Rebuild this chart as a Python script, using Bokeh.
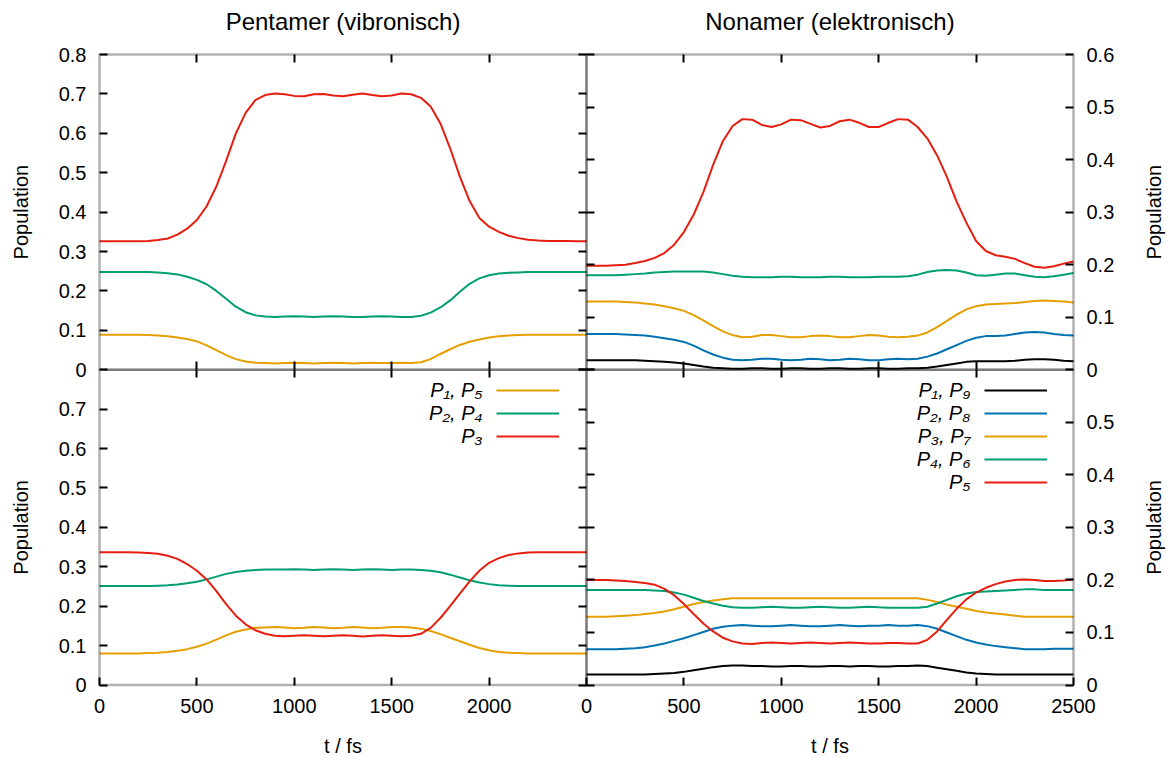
from bokeh.plotting import figure
from bokeh.models import Range1d, LinearAxis, FixedTicker, Label, Legend, LegendItem, BoxAnnotation
from bokeh.embed import file_html
from bokeh.resources import INLINE
import math

FONT = "Liberation Sans"

# ---------------- data ----------------
t_fs = [0, 50, 100, 150, 200, 250, 300, 350, 400, 450,
        500, 550, 600, 650, 700, 750, 800, 850, 900, 950,
        1000, 1050, 1100, 1150, 1200, 1250, 1300, 1350, 1400, 1450,
        1500, 1550, 1600, 1650, 1700, 1750, 1800, 1850, 1900, 1950,
        2000, 2050, 2100, 2150, 2200, 2250, 2300, 2350, 2400, 2450, 2500]

# Pentamer (vibronisch), top panel
tl_p15 = [.089, .089, .089, .089, .089, .088, .087, .085, .082, .078,
          .072, .062, .050, .037, .027, .021, .018, .017, .016, .017,
          .018, .017, .016, .017, .018, .017, .016, .017, .018, .017,
          .017, .018, .017, .019, .027, .040, .052, .063, .071, .077,
          .082, .085, .087, .088, .089, .089, .089, .089, .089, .089, .089]
tl_p24 = [.248, .248, .248, .248, .248, .248, .247, .245, .242, .236,
          .228, .217, .200, .180, .160, .146, .138, .135, .134, .135,
          .136, .135, .134, .135, .136, .135, .134, .134, .135, .136,
          .135, .134, .134, .137, .145, .158, .176, .198, .218, .232,
          .240, .244, .246, .247, .248, .248, .248, .248, .248, .248, .248]
tl_p3 = [.326, .326, .326, .326, .326, .327, .329, .333, .343, .358,
         .380, .415, .465, .530, .600, .652, .684, .697, .701, .699,
         .695, .694, .699, .700, .696, .694, .698, .701, .697, .694,
         .696, .701, .699, .690, .668, .625, .562, .490, .428, .385,
         .363, .350, .340, .334, .330, .328, .327, .327, .327, .326, .326]

# Pentamer, bottom panel
bl_p15 = [.080, .080, .080, .080, .080, .081, .082, .084, .087, .091,
          .097, .105, .115, .126, .135, .141, .145, .146, .147, .146,
          .144, .145, .147, .146, .144, .145, .147, .146, .144, .145,
          .147, .147, .146, .143, .137, .129, .120, .111, .102, .094,
          .088, .084, .082, .081, .080, .080, .080, .080, .080, .080, .080]
bl_p24 = [.251, .251, .251, .251, .251, .251, .252, .253, .255, .258,
          .262, .268, .275, .282, .287, .290, .292, .293, .293, .293,
          .294, .293, .292, .293, .294, .293, .292, .293, .294, .293,
          .292, .293, .293, .292, .290, .286, .280, .273, .266, .260,
          .256, .253, .252, .251, .251, .251, .251, .251, .251, .251, .251]
bl_p3 = [.337, .337, .337, .337, .336, .335, .333, .328, .320, .307,
         .290, .268, .238, .205, .176, .154, .139, .130, .125, .124,
         .125, .126, .125, .124, .125, .126, .125, .123, .125, .126,
         .125, .124, .125, .130, .145, .170, .200, .232, .263, .290,
         .310, .322, .330, .334, .336, .337, .337, .337, .337, .337, .337]

# Nonamer (elektronisch), top panel
tr_p19 = [.018, .018, .018, .018, .018, .018, .017, .016, .015, .014,
          .012, .009, .006, .004, .003, .002, .002, .003, .003, .002,
          .002, .003, .003, .002, .002, .003, .003, .002, .002, .003,
          .003, .002, .002, .003, .003, .004, .006, .009, .012, .015,
          .016, .016, .016, .016, .017, .019, .020, .020, .019, .017, .016]
tr_p28 = [.068, .068, .068, .068, .067, .066, .065, .063, .060, .057,
          .053, .046, .037, .029, .023, .019, .018, .019, .021, .021,
          .019, .018, .019, .021, .020, .018, .019, .021, .020, .018,
          .018, .020, .021, .020, .021, .025, .031, .039, .047, .055,
          .061, .064, .064, .065, .068, .071, .072, .071, .068, .066, .065]
tr_p37 = [.130, .130, .130, .130, .129, .128, .126, .124, .121, .117,
          .112, .104, .094, .083, .073, .066, .062, .063, .066, .066,
          .064, .062, .062, .064, .065, .064, .062, .062, .064, .066,
          .065, .063, .062, .063, .065, .071, .081, .093, .105, .115,
          .121, .124, .125, .126, .127, .129, .131, .132, .131, .130, .128]
tr_p46 = [.180, .180, .180, .180, .181, .182, .183, .185, .186, .187,
          .187, .187, .187, .185, .182, .179, .177, .176, .176, .176,
          .177, .177, .176, .176, .176, .177, .177, .176, .176, .176,
          .177, .177, .177, .178, .181, .186, .189, .190, .189, .185,
          .180, .179, .181, .183, .183, .180, .177, .176, .178, .181, .184]
tr_p5 = [.198, .198, .198, .199, .200, .203, .207, .213, .222, .238,
         .262, .295, .338, .390, .435, .464, .477, .476, .466, .462,
         .467, .476, .475, .468, .461, .464, .473, .476, .470, .462,
         .462, .470, .477, .476, .462, .440, .408, .367, .320, .280,
         .245, .226, .218, .215, .211, .203, .196, .194, .197, .202, .206]

# Nonamer, bottom panel
br_p19 = [.020, .020, .020, .020, .020, .020, .020, .021, .022, .023,
          .025, .028, .031, .034, .036, .037, .037, .036, .036, .035,
          .035, .036, .036, .035, .035, .036, .036, .035, .036, .036,
          .035, .035, .036, .036, .037, .036, .033, .030, .027, .024,
          .022, .021, .020, .020, .020, .020, .020, .020, .020, .020, .020]
br_p28 = [.068, .068, .068, .068, .069, .070, .072, .075, .079, .084,
          .089, .095, .101, .107, .111, .113, .114, .113, .112, .112,
          .113, .114, .113, .112, .112, .113, .114, .113, .112, .113,
          .113, .114, .113, .113, .114, .112, .107, .100, .093, .086,
          .081, .077, .074, .072, .070, .068, .068, .068, .069, .069, .069]
br_p37 = [.130, .130, .130, .131, .132, .133, .135, .137, .140, .144,
          .149, .154, .158, .161, .163, .165, .165, .165, .165, .165,
          .165, .165, .165, .165, .165, .165, .165, .165, .165, .165,
          .165, .165, .165, .165, .165, .162, .158, .153, .149, .145,
          .141, .138, .136, .134, .132, .130, .130, .130, .130, .130, .130]
br_p46 = [.181, .181, .181, .181, .181, .181, .181, .180, .179, .176,
          .172, .166, .160, .155, .151, .148, .147, .147, .148, .149,
          .148, .147, .147, .148, .149, .148, .147, .147, .148, .149,
          .148, .147, .147, .147, .147, .149, .155, .162, .169, .174,
          .177, .178, .179, .180, .181, .182, .182, .181, .181, .181, .181]
br_p5 = [.200, .200, .200, .199, .198, .196, .194, .191, .183, .171,
         .154, .135, .117, .102, .090, .083, .079, .078, .080, .081,
         .080, .079, .080, .081, .080, .079, .080, .081, .080, .079,
         .079, .080, .080, .079, .079, .086, .102, .124, .145, .163,
         .176, .185, .192, .197, .200, .201, .200, .198, .198, .199, .201]

# ticks / labels / texts
x_ticks_left = [0, 500, 1000, 1500, 2000]
x_labels_left = ["0", "500", "1000", "1500", "2000"]
x_ticks_right = [0, 500, 1000, 1500, 2000, 2500]
x_labels_right = ["0", "500", "1000", "1500", "2000", "2500"]
x_ticks_inner = [500, 1000, 1500, 2000]
y_ticks_tl = [0, 0.1, 0.2, 0.3, 0.4, 0.5, 0.6, 0.7, 0.8]
y_labels_tl = ["0", "0.1", "0.2", "0.3", "0.4", "0.5", "0.6", "0.7", "0.8"]
y_ticks_bl = [0, 0.1, 0.2, 0.3, 0.4, 0.5, 0.6, 0.7]
y_labels_bl = ["0", "0.1", "0.2", "0.3", "0.4", "0.5", "0.6", "0.7"]
y_ticks_tr = [0, 0.1, 0.2, 0.3, 0.4, 0.5, 0.6]
y_labels_tr = ["0", "0.1", "0.2", "0.3", "0.4", "0.5", "0.6"]
y_ticks_br = [0, 0.1, 0.2, 0.3, 0.4, 0.5]
y_labels_br = ["0", "0.1", "0.2", "0.3", "0.4", "0.5"]
T_MAX = 2500
Y_MAX_LEFT = 0.8
Y_MAX_RIGHT = 0.6

titles = ["Pentamer (vibronisch)", "Nonamer (elektronisch)"]
y_title = "Population"
x_title = "t / fs"
legend_left = ["P\u2081, P\u2085", "P\u2082, P\u2084", "P\u2083"]
legend_right = ["P\u2081, P\u2089", "P\u2082, P\u2088", "P\u2083, P\u2087", "P\u2084, P\u2086", "P\u2085"]

C_BLACK = "#000000"
C_BLUE = "#0072b2"
C_ORANGE = "#e69f00"
C_GREEN = "#009e73"
C_RED = "#e51e10"

# ---------------- layout (pixels) ----------------
W, H = 1167, 757
XL0, XM, XR1 = 99, 586, 1073          # panel edges, x
YT0, YM, YB1 = 54, 369.25, 684.5      # panel edges, y (from top)
SX = (XM - XL0) / T_MAX               # px per fs
SYL = (YM - YT0) / Y_MAX_LEFT         # px per unit, left panels
SYR = (YM - YT0) / Y_MAX_RIGHT        # px per unit, right panels

p = figure(width=W, height=H, output_backend="svg", toolbar_location=None,
           x_range=Range1d(-XL0 / SX, (W - XL0) / SX),
           y_range=Range1d((YB1 - H) / SYL, YB1 / SYL),
           x_axis_type=None, y_axis_type=None,
           min_border_left=0, min_border_right=0, min_border_top=0, min_border_bottom=0)
p.extra_x_ranges = {"xr": Range1d(-XM / SX, (W - XM) / SX)}
p.extra_y_ranges = {"ytl": Range1d((YM - H) / SYL, YM / SYL),
                    "ytr": Range1d((YM - H) / SYR, YM / SYR),
                    "ybr": Range1d((YB1 - H) / SYR, YB1 / SYR)}
p.background_fill_color = "white"
p.border_fill_color = "white"
p.outline_line_color = None


def add_axis(side, ticks, loc, xr=None, yr=None, labels=None, standoff=13):
    kw = {}
    if xr:
        kw["x_range_name"] = xr
    if yr:
        kw["y_range_name"] = yr
    ax = LinearAxis(ticker=FixedTicker(ticks=ticks, minor_ticks=[]), fixed_location=loc, **kw)
    ax.axis_line_color = None
    ax.major_tick_in = 8
    ax.major_tick_out = 0
    ax.major_tick_line_width = 2
    ax.major_tick_line_color = "black"
    ax.minor_tick_line_color = None
    if labels is None:
        ax.major_label_text_font_size = "0px"
        ax.major_label_text_color = None
        ax.major_label_standoff = 0
    else:
        ax.major_label_overrides = {tk: lb for tk, lb in zip(ticks, labels)}
        ax.major_label_text_font = FONT
        ax.major_label_text_font_size = "20px"
        ax.major_label_text_color = "black"
        ax.major_label_standoff = standoff
    p.add_layout(ax, side)


# y axes, left panels
add_axis("left", y_ticks_tl, 0, yr="ytl", labels=y_labels_tl)
add_axis("left", y_ticks_bl, 0, labels=y_labels_bl)
add_axis("right", y_ticks_tl, T_MAX, yr="ytl")
add_axis("right", y_ticks_tl, T_MAX)
# y axes, right panels
add_axis("left", y_ticks_tr, 0, xr="xr", yr="ytr")
add_axis("left", y_ticks_tr, 0, xr="xr", yr="ybr")
add_axis("right", y_ticks_tr, T_MAX, xr="xr", yr="ytr", labels=y_labels_tr)
add_axis("right", y_ticks_br, T_MAX, xr="xr", yr="ybr", labels=y_labels_br)
# x axes
add_axis("below", x_ticks_left, 0, labels=x_labels_left, standoff=14)
add_axis("below", x_ticks_right, 0, xr="xr", yr="ybr", labels=x_labels_right, standoff=14)
add_axis("above", x_ticks_inner, Y_MAX_LEFT, yr="ytl")
add_axis("above", x_ticks_inner, Y_MAX_RIGHT, xr="xr", yr="ytr")
add_axis("below", x_ticks_inner, 0, yr="ytl")
add_axis("below", x_ticks_inner, 0, xr="xr", yr="ytr")
add_axis("above", x_ticks_inner, Y_MAX_LEFT)
add_axis("above", x_ticks_inner, Y_MAX_RIGHT, xr="xr", yr="ybr")

LW = 2
# top-left
p.line(t_fs, tl_p15, color=C_ORANGE, line_width=LW, y_range_name="ytl")
p.line(t_fs, tl_p24, color=C_GREEN, line_width=LW, y_range_name="ytl")
p.line(t_fs, tl_p3, color=C_RED, line_width=LW, y_range_name="ytl")
# bottom-left
r_bl15 = p.line(t_fs, bl_p15, color=C_ORANGE, line_width=LW)
r_bl24 = p.line(t_fs, bl_p24, color=C_GREEN, line_width=LW)
r_bl3 = p.line(t_fs, bl_p3, color=C_RED, line_width=LW)
# top-right
p.line(t_fs, tr_p19, color=C_BLACK, line_width=LW, x_range_name="xr", y_range_name="ytr")
p.line(t_fs, tr_p28, color=C_BLUE, line_width=LW, x_range_name="xr", y_range_name="ytr")
p.line(t_fs, tr_p37, color=C_ORANGE, line_width=LW, x_range_name="xr", y_range_name="ytr")
p.line(t_fs, tr_p46, color=C_GREEN, line_width=LW, x_range_name="xr", y_range_name="ytr")
p.line(t_fs, tr_p5, color=C_RED, line_width=LW, x_range_name="xr", y_range_name="ytr")
# bottom-right
r_br19 = p.line(t_fs, br_p19, color=C_BLACK, line_width=LW, x_range_name="xr", y_range_name="ybr")
r_br28 = p.line(t_fs, br_p28, color=C_BLUE, line_width=LW, x_range_name="xr", y_range_name="ybr")
r_br37 = p.line(t_fs, br_p37, color=C_ORANGE, line_width=LW, x_range_name="xr", y_range_name="ybr")
r_br46 = p.line(t_fs, br_p46, color=C_GREEN, line_width=LW, x_range_name="xr", y_range_name="ybr")
r_br5 = p.line(t_fs, br_p5, color=C_RED, line_width=LW, x_range_name="xr", y_range_name="ybr")

# panel borders
for xr_name, yr_name, ytop in [("default", "ytl", Y_MAX_LEFT), ("default", "default", Y_MAX_LEFT),
                               ("xr", "ytr", Y_MAX_RIGHT), ("xr", "ybr", Y_MAX_RIGHT)]:
    p.add_layout(BoxAnnotation(left=0, right=T_MAX, bottom=0, top=ytop,
                               x_range_name=xr_name, y_range_name=yr_name,
                               fill_alpha=0, line_color="black", line_width=2.5))


def txt(text, gx, gy, size="20px", angle=0.0, align="center", style="normal"):
    # gx, gy: pixel position from the top-left of the canvas
    p.add_layout(Label(x=gx, y=H - gy, x_units="screen", y_units="screen", text=text,
                       text_font=FONT, text_font_size=size, text_color="black",
                       text_align=align, text_baseline="middle", angle=angle,
                       text_font_style=style))


# titles and axis titles
txt(titles[0], (XL0 + XM) / 2, 21, size="24px")
txt(titles[1], (XM + XR1) / 2, 21, size="24px")
for gy in [(YT0 + YM) / 2, (YM + YB1) / 2]:
    txt(y_title, 20, gy, angle=math.pi / 2)
    txt(y_title, 1153, gy, angle=math.pi / 2)
txt(x_title, (XL0 + XM) / 2, 745)
txt(x_title, (XM + XR1) / 2, 745)

# legends: sample lines via Legend, texts right-aligned to the left of them
ROW = 23
for i, s in enumerate(legend_left):
    txt(s, XM - 104, YM + 20.5 + i * ROW, align="right", style="italic")
for i, s in enumerate(legend_right):
    txt(s, XR1 - 103, YM + 20.5 + i * ROW, align="right", style="italic")


def sample_legend(renderers, gx):
    n = len(renderers)
    h = n * 20 + (n - 1) * 3
    leg = Legend(items=[LegendItem(label=" ", renderers=[r]) for r in renderers],
                 location=(gx, H - (YM + 10.5 + h)), padding=0, spacing=3, margin=0,
                 glyph_width=63, glyph_height=20, label_width=0, label_standoff=0,
                 label_text_font_size="8px", border_line_color=None,
                 background_fill_alpha=0)
    p.add_layout(leg)


sample_legend([r_bl15, r_bl24, r_bl3], XM - 90)
sample_legend([r_br19, r_br28, r_br37, r_br46, r_br5], XR1 - 89)

with open("out.html", "w", encoding="utf-8") as f:
    f.write(file_html(p, INLINE, title="Population"))
